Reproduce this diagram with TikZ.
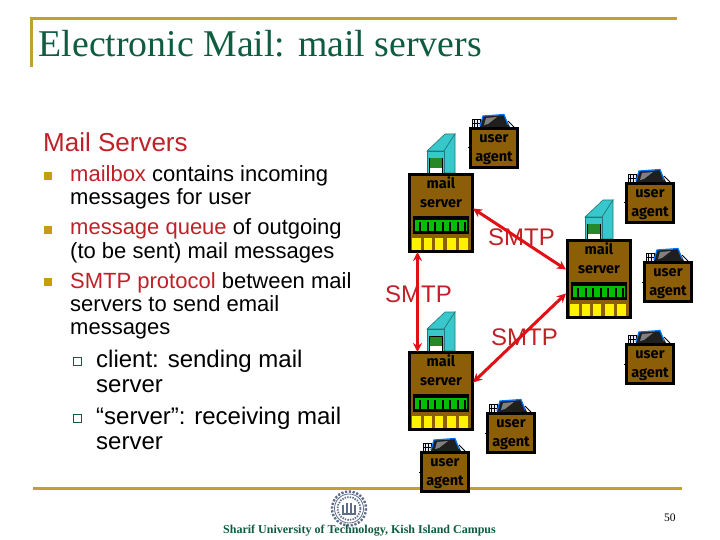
\documentclass[tikz,border=0pt]{standalone}
\usepackage{fontspec}
\setmainfont{Liberation Sans}
\newfontfamily\serifface{Liberation Serif}
\newfontfamily\boxface{Fira Sans}
\usetikzlibrary{arrows.meta,calc}
\definecolor{gold}{HTML}{C0A030}
\definecolor{bulletgold}{HTML}{C89C10}
\definecolor{titlegreen}{HTML}{0F5C40}
\definecolor{headred}{HTML}{C02028}
\definecolor{arrowred}{HTML}{E01015}
\definecolor{boxbrown}{HTML}{8C5E08}
\definecolor{towercyan}{HTML}{38C8CC}
\definecolor{logoblue}{HTML}{5E6C8C}
\newcommand{\fsz}[1]{\fontsize{#1}{#1}\selectfont}
\newcommand{\hl}[1]{\textcolor{headred}{#1}}
\tikzset{
  rule/.style={gold,line width=3pt},
  body/.style={anchor=base west,inner sep=0pt,font=\fsz{22},text=black},
  subbody/.style={anchor=base west,inner sep=0pt,font=\fsz{24},text=black},
  smtp/.style={anchor=base west,inner sep=0pt,font=\fsz{24},text=headred},
  mainbullet/.style={fill=bulletgold,minimum size=8pt,inner sep=0pt},
  subbullet/.style={draw=titlegreen,line width=1pt,fill=white,minimum size=8pt,inner sep=0pt},
  agentbox/.style={draw=black,fill=boxbrown,line width=3pt,minimum width=47pt,minimum height=39pt,inner sep=0pt,outer sep=0pt,anchor=north west},
  serverbox/.style={draw=black,fill=boxbrown,line width=3pt,minimum width=63pt,minimum height=77pt,inner sep=0pt,outer sep=0pt,anchor=north west},
  boxlabel/.style={anchor=north,inner sep=0pt,align=center,font=\boxface\bfseries\fontsize{14.5}{19}\selectfont,text=black},
  link/.style={arrowred,line width=3pt,{Stealth[length=9pt,width=9pt]}-{Stealth[length=9pt,width=9pt]}},
}
% name, left, top
\newcommand{\useragent}[3]{%
  \begin{scope}[shift={(#2,#3)}]
    \fill[black] (-1.5,20.5) rectangle (1,21.5);
    \draw[black,line width=0.6pt,fill=blue!8] (3,-8) rectangle (11,0);
    \draw[black,line width=0.4pt] (5.5,-8) -- (5.5,0) (8.5,-8) -- (8.5,0) (3,-4) -- (11,-4);
    \fill[black!88] (11,0) -- (14,-11) -- (35,-12) -- (41,0) -- cycle;
    \fill[black!50] (17,-9) -- (28,-10) -- (19,-3) -- (15,-2) -- cycle;
    \draw[blue!55!cyan,line width=1.2pt] (11,-1) -- (14,-11) -- (35,-12.5) -- (39,-2);
    \draw[black,line width=0.8pt] (39,-6) -- (45,0);
    \node[agentbox] (#1) at (1.5,1.5) {};
    \node[boxlabel] (#1-label) at (25,7.5) {user\\agent};
  \end{scope}}
% name, left, top
\newcommand{\mailserver}[3]{%
  \begin{scope}[shift={(#2,#3)}]
    \filldraw[fill=towercyan,draw=towercyan!60!black,line width=0.6pt] (19,-22) -- (37,-39) -- (47,-39) -- (36,-22) -- cycle;
    \filldraw[fill=towercyan,draw=towercyan!60!black,line width=0.6pt] (36,-22) -- (47,-39) -- (47,0) -- (36,0) -- cycle;
    \filldraw[fill=towercyan,draw=towercyan!60!black,line width=0.6pt] (19,-22) rectangle (36,0);
    \filldraw[fill=white,draw=black,line width=0.8pt] (21,-15) rectangle (34,0);
    \fill[green!45!black!85] (22,-14.5) rectangle (33.5,-5);
    \node[serverbox] (#1) at (1.5,1.5) {};
    \node[boxlabel] (#1-label) at (33,4) {mail\\server};
    \fill[black] (5,43) rectangle (61,61);
    \fill[green!75!black] (7,47) rectangle (59,58);
    \foreach \tx in {11,18.5,26,33.5,41,48.5,56} {\fill[black] (\tx,49) rectangle (\tx+2.2,58);}
    \foreach \ya/\yb in {4/13,16/24,27/35,39/48,51/60} {\fill[yellow] (\ya,65) rectangle (\yb,77);}
  \end{scope}}
\begin{document}
\begin{tikzpicture}[x=1pt,y=-1pt]
\useasboundingbox (0,0) rectangle (720,540);
\fill[white] (0,0) rectangle (720,540);
% frame rules
\coordinate (rtl) at (31,18.5);
\coordinate (rtr) at (677,18.5);
\coordinate (rlb) at (31,67);
\coordinate (rbl) at (33,488);
\coordinate (rbr) at (682,488);
\draw[rule] (rlb) -- (rtl) -- (rtr);
\draw[rule] (rbl) -- (rbr);
% title
\node[anchor=base west,inner sep=0pt,font=\serifface\fsz{37.8},text=titlegreen] (title) at (38.5,57) {Electronic Mail: mail servers};
% text column
\node[anchor=base west,inner sep=0pt,font=\fsz{26},text=headred] (head) at (43,152) {Mail Servers};
\node[mainbullet] (b1) at (48,176) {};
\node[mainbullet] (b2) at (48,230) {};
\node[mainbullet] (b3) at (48,282) {};
\node[body] (t1) at (70,182) {\hl{mailbox} contains incoming};
\node[body] (t2) at (70,205) {messages for user};
\node[body] (t3) at (70,235) {\hl{message queue} of outgoing};
\node[body] (t4) at (70,258.5) {(to be sent) mail messages};
\node[body] (t5) at (70,288) {\hl{SMTP protocol} between mail};
\node[body] (t6) at (70,311.5) {servers to send email};
\node[body] (t7) at (70,334.5) {messages};
\node[subbullet] (c1) at (77,361) {};
\node[subbullet] (c2) at (77,418) {};
\node[subbody] (u1) at (96,367) {client: sending mail};
\node[subbody] (u2) at (96,392.5) {server};
\node[subbody] (u3) at (96,424) {“server”: receiving mail};
\node[subbody] (u4) at (96,449.5) {server};
% logo
\begin{scope}[shift={(349,508.5)},logoblue]
  \draw[line width=2.4pt,dash pattern=on 2.2pt off 1.6pt] (0,0) circle (17);
  \draw[line width=0.8pt] (0,0) circle (14.5);
  \draw[line width=1.8pt,dash pattern=on 1.4pt off 1.2pt] (0,0) circle (11.5);
  \draw[line width=1.2pt] (-6,4) -- (-6,-4) (-2,5) -- (-2,-6) (2,5) -- (2,-6) (6,4) -- (6,-4) (-7,5.5) -- (7,5.5);
\end{scope}
% diagram
\mailserver{s1}{408}{173}
\mailserver{s2}{566}{239}
\mailserver{s3}{408}{351}
\useragent{a1}{469}{127}
\useragent{a2}{625}{182}
\useragent{a3}{643}{261}
\useragent{a4}{625}{343}
\useragent{a5}{486}{412}
\useragent{a6}{420}{451}
\node[smtp] (l1) at (488,245) {SMTP};
\node[smtp] (l2) at (385,302) {SMTP};
\node[smtp] (l3) at (491,345) {SMTP};
\draw[link] ($(s1.south west)+(8,0.5)$) -- ($(s3.north west)+(8,-0.5)$);
\draw[link] ($(s1.north east)+(0.5,34)$) -- ($(s2.north west)+(-1.5,29)$);
\draw[link] ($(s3.north east)+(0.5,30)$) -- ($(s2.south west)+(-1.5,-24)$);
% footer
\node[anchor=base,inner sep=0pt,font=\serifface\bfseries\fsz{12},text=titlegreen] (foot) at (359.5,533.5) {Sharif University of Technology, Kish Island Campus};
\node[anchor=base west,inner sep=0pt,font=\serifface\fsz{11.5},text=black] (page) at (664,521) {50};
\end{tikzpicture}
\end{document}
